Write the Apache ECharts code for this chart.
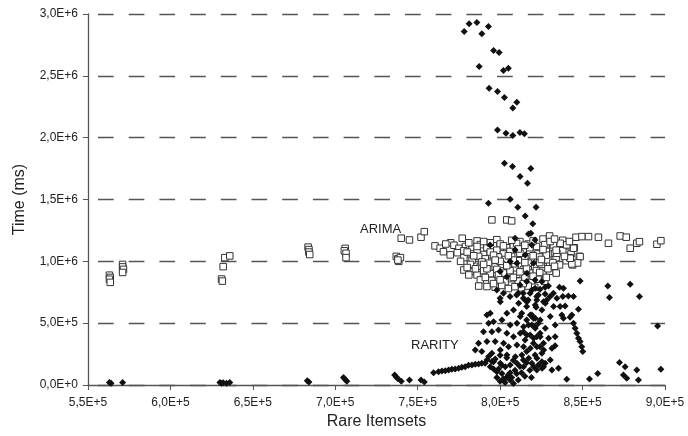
<!DOCTYPE html>
<html>
<head>
<meta charset="utf-8">
<script src="https://cdn.jsdelivr.net/npm/echarts@6/dist/echarts.min.js"></script>
<style>html,body{margin:0;padding:0;background:#fff}#c{width:688px;height:436px}</style>
</head>
<body>
<div id="c"></div>
<script>
// values in thousands: [Rare Itemsets (k), Time (k ms)]
const arimaPoints = [
  [563,888],[563.5,870],[563,855],[563.5,830],[571,975],[571,955],[571.5,935],[571,910],
  [631,857],[631.5,840],[632,957],[633,1030],[636,1044],
  [683.5,1115],[684,1095],[684,1075],[684.5,1055],
  [706,1105],[705.5,1085],[706.5,1065],[706.5,1030],
  [737,1040],[738,1020],[738.5,1000],[739.5,1030],[738,1010],
  [740,1187],[745,1173],[752,1195],[754,1240],[777,1187],
  [795,1335],[804,1335],[807,1327],
  [770,1150],[786,1165],[798,1175],[812,1160],[826,1180],[838,1170],[846,1195],[830,1205],
  [760.5,1125],[772,1130],[775,1105],[779,1120],[783,1100],[788,1135],[792,1110],[796,1125],[800,1140],[804,1110],[808,1130],[813,1115],[817,1140],[822,1120],[827,1135],[832,1110],[836,1140],[841,1125],[845,1110],
  [763.6,1106],[765.6,1078],[769.7,1052],[774,1070],[778,1085],[782,1060],[786,1080],[790,1055],[794,1075],[798,1090],[802,1060],[806,1080],[810,1050],[814,1075],[818,1090],[823,1060],[828,1080],[833,1065],[838,1085],[843,1060],[848,1040],
  [778,1030],[783,1010],[787,1040],[791,1020],[795,1000],[799,1035],[803,1015],[807,1040],[811,1005],[815,1025],[819,1000],[824,1035],[829,1010],[834,1030],[840,1005],[842.5,1028],[848.5,1038],
  [782,975],[788,960],[793,985],[797,955],[801,975],[805,950],[809,980],[813,960],[817,985],[821,955],[825,975],[830,960],[836,971],[844,971],[847,987],
  [778,930],[782,917],[786,890],[790,925],[794,900],[798,935],[802,905],[806,925],[810,895],[814,930],[818,905],[822,925],[826,900],[830,920],[834,905],
  [788,850],[791,870],[795,845],[799,865],[803,835],[807,860],[811,840],[815,870],[819,830],[823,855],[827,840],
  [787,800],[792,796],[797,790],[801,805],[805,780],[809,795],[813,785],[817,800],[821,790],
  [849.6,1200],[853.6,1200],[859.6,1195],[865.7,1146],[872.8,1205],[876.5,1195],[878.9,1106],[882.9,1146],[884.5,1159],[895.1,1138],[897.5,1167],
  [843.5,979],[842.5,1025],[844.5,1106],[840.4,1133],[836.4,1146],[832.3,1133],[834.4,1065],[830.3,1160],
  [776,1000],[780,950],[784,1045],[789,995],[792,940],[796,1050],[800,1000],[804,965],[808,1010],[812,1065],
  [816,945],[820,1045],[824,990],[828,1050],[832,990],[786,1120],[794,1150],[802,1125],[810,1145],[818,1110],
  [834,1090],[839,1040],[811,1100],[805,1045],[797,1010],[790,975],[815,990],[825,1015],[829,940],[833,960],
  [781,890],[785,940],[799,890],[812,915],[820,880],[824,910],[808,870],[796,820],[814,820],[800,850],[828,870],
  [767,1140],[781,1150],[790,1160],[807,1170],[820,1165],[833,1180],[842,1160],[780,1075],[815,1130],[826,1095]
];
const rarityPoints = [
  [563,20],[564,15],[571,20],[630,20],[631,15],[632,18],[634,15],[636,20],
  [683,35],[684,25],[705,60],[706,45],[707,30],
  [736,80],[737,65],[738,50],[740,30],[745,40],[752,40],[754,25],
  [778.2,2858],[781.2,2921],[785.9,2931],[788.9,2840],[792.9,2899],[796,2705],[799.4,2689],[787.3,2575],[802,2543],[805,2562],
  [793.3,2400],[798.4,2373],[802.6,2324],[807.7,2239],[810.1,2287],
  [798.4,2063],[803.5,2036],[807.7,2017],[812,2041],[814.7,2031],
  [802.6,1794],[807.5,1766],[818.6,1750],[812.1,1685],[816.6,1632],
  [792.9,1470],[806.1,1502],[810.7,1438],[821.8,1438],[815.2,1367],[819.8,1303],[818.6,1227],
  [793.9,1133],[809.1,1187],[817.2,1222],[819.2,1133],[821.2,1173],[815.2,1052],[806.1,998],[800,917],[809.1,1092],[810.1,984],[820.2,984],[804,876],[816.2,903],[812.1,809],
  [798,768],[800,701],[806,715],[811,741],[815.2,688],[819.2,768],[822.2,715],[802,742],[810,728],[814,742],[817,688],
  [816.1,836],[821.2,850],[825.3,836],[827.3,790],[829.3,801],[821.2,782],[824.2,774],[818.2,742],[823.2,728],[827.3,736],
  [814.1,701],[822.2,688],[826.3,674],[816.1,634],[821.8,628],[825.3,607],[813.1,580],[819.2,566],[816.1,526],[820.2,539],
  [817.2,485],[821.2,472],[823.2,499],[814.1,431],[818.2,405],[822.2,391],[824.2,418],[815.1,364],[820.2,337],[824.2,310],
  [826.3,337],[816.1,270],[821.2,243],[825.3,256],[814.1,202],[819.2,175],[823.2,162],[827.3,175],[822.2,121],[826.3,148],
  [833.3,318],[835.4,135],[840.4,46],[828.3,688],[830.3,715],[832.3,742],[834.4,701],[836,790],[838.4,782],[838,715],
  [841.4,720],[844.5,715],[836.4,634],[839.4,639],[837.4,566],[838.4,539],[842.4,548],[843.5,566],[847.5,612],[848.5,841],
  [844.5,499],[845.5,458],[846.5,418],[847.5,378],[848.5,351],[849.5,310],[850.1,270],
  [854.2,48],[859.2,94],[865.3,801],[866.3,707],[878.9,814],[884.5,715],[895.5,477],[872.4,181],[875.8,148],[874.8,81],[876.8,54],[882.9,121],[883.9,40],[897.5,127],
  [800.1,674],[811.2,661],[816.2,674],[821.3,647],[827.4,661],[832.4,634],
  [792,566],[794,580],[804.1,580],[808.1,607],[812.2,553],[818.3,566],[821.3,539],[824.3,526],[830.4,553],
  [793,499],[796,512],[801.1,526],[806.1,485],[810.2,499],[814.2,472],[819.3,485],[821.3,458],[827.4,458],[833.4,485],
  [789.9,431],[795,431],[799,445],[804.1,418],[808.1,391],[812.2,418],[816.2,405],[820.3,378],[824.3,391],[829.4,378],[833.4,391],
  [786.9,337],[792,351],[797,351],[802.1,337],[805.1,310],[810.2,324],[814.2,310],[818.3,297],[822.3,310],[826.4,283],[831.4,297],
  [784.9,283],[788.9,270],[795,256],[800.1,283],[804.1,243],[809.2,229],[813.2,243],[817.3,216],[822.3,216],[825.3,189],[830.4,202],
  [792,202],[796,189],[800.1,175],[803.1,148],[806.1,162],[810.2,175],[814.2,148],[820.3,148],[825.4,135],[831.4,121],
  [759.6,100],[762.6,108],[764.7,113],[766.7,116],[768.7,121],[770.7,127],[772.7,129],[774.8,135],[776.8,143],[778.8,148],
  [780.8,159],[782.9,162],[784.9,167],[786.9,170],[788.9,175],[790.9,175],[794,148],[796,129],[798,108],[801.1,94],[804.1,62],[806.1,40],[808.1,13],
  [798,60],[800,30],[802,50],[803,20],[805,80],[806,100],[807,60],[809,120],[810,90],[811,40],[812,150],[808,200],[804,220],[800,240],[797,210],
  [795,190],[793,230],[813,100],[815,70],[816,180],[818,120],[819,60],[799,130],[801,160]
];
const xTicks = [550000, 600000, 650000, 700000, 750000, 800000, 850000, 900000];
const yTicks = [0, 500000, 1000000, 1500000, 2000000, 2500000, 3000000];
const seriesNames = ['ARIMA', 'RARITY'];

function sci(v) {
  if (v === 0) return '0,0E+0';
  const e = Math.floor(Math.log10(Math.abs(v)) + 1e-9);
  const m = v / Math.pow(10, e);
  return m.toFixed(1).replace('.', ',') + 'E+' + e;
}
const toData = pts => pts.map(p => [p[0] * 1000, p[1] * 1000]);

const chart = echarts.init(document.getElementById('c'), null, {renderer: 'canvas'});
const font = '"Liberation Sans", Arial, sans-serif';
chart.setOption({
  animation: false,
  backgroundColor: '#fff',
  grid: {left: 88, right: 23, top: 14, bottom: 51, containLabel: false},
  xAxis: {
    type: 'value', min: xTicks[0], max: xTicks[xTicks.length - 1], interval: 50000,
    name: 'Rare Itemsets', nameLocation: 'middle', nameGap: 29,
    nameTextStyle: {fontFamily: font, fontSize: 16, color: '#222'},
    axisLine: {show: true, lineStyle: {color: '#555', width: 1.3}},
    axisTick: {show: true, length: 5, lineStyle: {color: '#555'}},
    axisLabel: {fontFamily: font, fontSize: 12, color: '#222', margin: 12, formatter: sci},
    splitLine: {show: false}
  },
  yAxis: {
    type: 'value', min: yTicks[0], max: yTicks[yTicks.length - 1], interval: 500000,
    name: 'Time (ms)', nameLocation: 'middle', nameGap: 60,
    nameTextStyle: {fontFamily: font, fontSize: 16, color: '#222'},
    axisLine: {show: true, lineStyle: {color: '#555', width: 1.3}},
    axisTick: {show: true, length: 5, lineStyle: {color: '#555'}},
    axisLabel: {fontFamily: font, fontSize: 12, color: '#222', margin: 10, formatter: sci},
    splitLine: {show: true, lineStyle: {color: '#555', width: 1.4, type: [15.7, 15], dashOffset: 20.7}}
  },
  series: [
    {
      name: seriesNames[0], type: 'scatter', symbol: 'rect', symbolSize: 6.5,
      itemStyle: {color: '#fff', borderColor: '#333', borderWidth: 1, opacity: 1},
      data: toData(arimaPoints), z: 2
    },
    {
      name: seriesNames[1], type: 'scatter', symbol: 'diamond', symbolSize: 7,
      itemStyle: {color: '#111', opacity: 1},
      data: toData(rarityPoints), z: 3
    }
  ],
  graphic: [
    {type: 'text', left: 360, top: 223, style: {text: 'ARIMA', fontFamily: font, fontSize: 13, fill: '#222'}},
    {type: 'text', left: 411, top: 339, style: {text: 'RARITY', fontFamily: font, fontSize: 13, fill: '#222'}}
  ]
});
</script>
</body>
</html>
